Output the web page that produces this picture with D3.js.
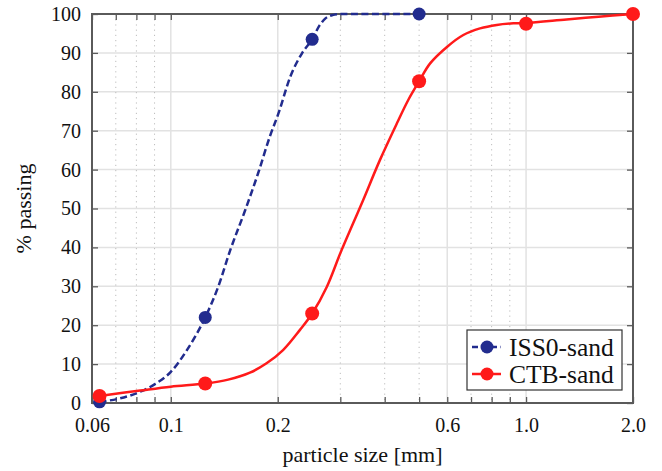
<!DOCTYPE html>
<html>
<head>
<meta charset="utf-8">
<script src="https://cdn.jsdelivr.net/npm/d3@7"></script>
<style>
  body { margin: 0; background: #fff; }
</style>
</head>
<body>
<div id="chart"></div>
<script>
// sieve curves (particle size in mm, % passing)
var issCurveSize = [0.063, 0.072, 0.082, 0.09, 0.1, 0.111, 0.125, 0.136, 0.147, 0.162, 0.176, 0.19, 0.201, 0.217, 0.234, 0.25, 0.262, 0.272, 0.285, 0.3, 0.5];
var issCurvePass = [0.3, 1.2, 2.9, 4.8, 8.0, 13.6, 22, 29.9, 39.3, 49.6, 59.0, 68.5, 74.5, 83.9, 89.9, 93.5, 97.0, 98.8, 99.7, 100, 100];
var ctbCurveSize = [0.063, 0.082, 0.1, 0.125, 0.145, 0.167, 0.186, 0.207, 0.231, 0.25, 0.275, 0.3, 0.326, 0.348, 0.388, 0.433, 0.466, 0.5, 0.537, 0.6, 0.666, 0.742, 0.827, 0.921, 1.0, 1.3, 1.6, 2.0];
var ctbCurvePass = [1.8, 3.2, 4.2, 5.0, 6.0, 7.8, 10.2, 13.6, 18.8, 23, 29.9, 38.5, 46.2, 52.2, 62.5, 71.9, 77.9, 82.7, 87.3, 91.6, 94.6, 96.3, 97.2, 97.6, 97.7, 98.6, 99.3, 100];

// measured sieve points (markers)
var issPointSize = [0.063, 0.125, 0.25, 0.5];
var issPointPass = [0.3, 22, 93.5, 100];
var ctbPointSize = [0.063, 0.125, 0.25, 0.5, 1.0, 2.0];
var ctbPointPass = [1.8, 5.0, 23, 82.7, 97.5, 100];

var xMajor = [0.06, 0.1, 0.2, 0.6, 1.0, 2.0];
var xMajorLabels = ["0.06", "0.1", "0.2", "0.6", "1.0", "2.0"];
var xMinor = [0.07, 0.08, 0.09, 0.3, 0.4, 0.5, 0.7, 0.8, 0.9];
var yTicks = [0, 10, 20, 30, 40, 50, 60, 70, 80, 90, 100];

var seriesNames = ["ISS0-sand", "CTB-sand"];
var seriesColors = ["#222c8e", "#ff1a1a"];
var serif = "'Liberation Serif', 'Times New Roman', serif";

var W = 662, H = 471;
var margin = { top: 14, right: 29, bottom: 68, left: 92 },
    width = W - margin.left - margin.right,
    height = H - margin.top - margin.bottom;

var svg = d3.select("#chart").append("svg")
    .attr("width", W)
    .attr("height", H);
var g = svg.append("g")
    .attr("transform", "translate(" + margin.left + "," + margin.top + ")");

var x = d3.scaleLog().domain([0.06, 2.0]).range([0, width]);
var y = d3.scaleLinear().domain([0, 100]).range([height, 0]);

// grid
g.append("g").selectAll("line.hgrid")
    .data(yTicks.slice(1, -1))
    .enter().append("line")
    .attr("x1", 0).attr("x2", width)
    .attr("y1", d => y(d)).attr("y2", d => y(d))
    .attr("stroke", "#e2e2e2").attr("stroke-width", 1.5);

g.append("g").selectAll("line.vgrid")
    .data(xMajor.slice(1, -1))
    .enter().append("line")
    .attr("x1", d => x(d)).attr("x2", d => x(d))
    .attr("y1", 0).attr("y2", height)
    .attr("stroke", "#e2e2e2").attr("stroke-width", 1.5);

g.append("g").selectAll("line.vminor")
    .data(xMinor)
    .enter().append("line")
    .attr("x1", d => x(d)).attr("x2", d => x(d))
    .attr("y1", 0).attr("y2", height)
    .attr("stroke", "#bdbdbd").attr("stroke-width", 1)
    .attr("stroke-dasharray", "1.2,4");

// axes
var axisColor = "#5a5a5a";
function styleAxis(sel) {
    sel.select(".domain").remove();
    sel.selectAll(".tick line").attr("stroke", axisColor).attr("stroke-width", 1.3);
}

var xAxis = g.append("g")
    .attr("transform", "translate(0," + height + ")")
    .call(d3.axisBottom(x).tickValues(xMajor.concat(xMinor)).tickSizeInner(-6).tickSizeOuter(0)
        .tickFormat(function(d) {
            var i = xMajor.indexOf(d);
            return i >= 0 ? xMajorLabels[i] : "";
        }))
    .call(styleAxis);
xAxis.selectAll("text").attr("y", 15)
    .style("font-family", serif).style("font-size", "20px").attr("fill", "#111");

g.append("g")
    .call(d3.axisTop(x).tickValues(xMajor.concat(xMinor)).tickSizeInner(-6).tickSizeOuter(0).tickFormat(""))
    .call(styleAxis);

var yAxis = g.append("g")
    .call(d3.axisLeft(y).tickValues(yTicks).tickSizeInner(-6).tickSizeOuter(0))
    .call(styleAxis);
yAxis.selectAll("text").attr("x", -11)
    .style("font-family", serif).style("font-size", "20px").attr("fill", "#111");

g.append("g")
    .attr("transform", "translate(" + width + ",0)")
    .call(d3.axisRight(y).tickValues(yTicks).tickSizeInner(-6).tickSizeOuter(0).tickFormat(""))
    .call(styleAxis);

// frame
g.append("rect")
    .attr("width", width).attr("height", height)
    .attr("fill", "none")
    .attr("stroke", axisColor).attr("stroke-width", 2);

// curves
var line = d3.line()
    .x(d => x(d[0]))
    .y(d => y(d[1]))
    .curve(d3.curveMonotoneX);

g.append("path")
    .datum(d3.zip(issCurveSize, issCurvePass))
    .attr("d", line)
    .attr("fill", "none")
    .attr("stroke", seriesColors[0]).attr("stroke-width", 2.5)
    .attr("stroke-dasharray", "7,3.5");

g.append("path")
    .datum(d3.zip(ctbCurveSize, ctbCurvePass))
    .attr("d", line.curve(d3.curveCatmullRom.alpha(0.5)))
    .attr("fill", "none")
    .attr("stroke", seriesColors[1]).attr("stroke-width", 2.5);

g.append("g").selectAll("circle")
    .data(d3.zip(issPointSize, issPointPass))
    .enter().append("circle")
    .attr("cx", d => x(d[0])).attr("cy", d => y(d[1]))
    .attr("r", 6.5).attr("fill", seriesColors[0]);

g.append("g").selectAll("circle")
    .data(d3.zip(ctbPointSize, ctbPointPass))
    .enter().append("circle")
    .attr("cx", d => x(d[0])).attr("cy", d => y(d[1]))
    .attr("r", 7).attr("fill", seriesColors[1]);

// axis labels
svg.append("text")
    .attr("x", margin.left + width / 2)
    .attr("y", 462)
    .attr("text-anchor", "middle")
    .style("font-family", serif).style("font-size", "22px")
    .attr("fill", "#111")
    .text("particle size [mm]");

svg.append("text")
    .attr("transform", "translate(31," + (margin.top + height / 2) + ") rotate(-90)")
    .attr("text-anchor", "middle")
    .style("font-family", serif).style("font-size", "22px")
    .attr("fill", "#111")
    .text("% passing");

// legend
var legend = g.append("g")
    .attr("transform", "translate(" + (width - 166) + "," + (height - 73) + ")");
legend.append("rect")
    .attr("width", 155).attr("height", 60)
    .attr("fill", "#fff")
    .attr("stroke", "#333").attr("stroke-width", 1.2);

var item = legend.selectAll("g.item")
    .data(seriesNames)
    .enter().append("g")
    .attr("transform", (d, i) => "translate(0," + (17 + i * 27) + ")");
item.append("line")
    .attr("x1", 5).attr("x2", 34)
    .attr("stroke", (d, i) => seriesColors[i])
    .attr("stroke-width", 2.5)
    .attr("stroke-dasharray", (d, i) => i === 0 ? "6,3.5" : null);
item.append("circle")
    .attr("cx", 20).attr("r", 6.5)
    .attr("fill", (d, i) => seriesColors[i]);
item.append("text")
    .attr("x", 42).attr("dy", "0.35em")
    .style("font-family", serif).style("font-size", "25.5px")
    .attr("fill", "#111")
    .text(d => d);
</script>
</body>
</html>
